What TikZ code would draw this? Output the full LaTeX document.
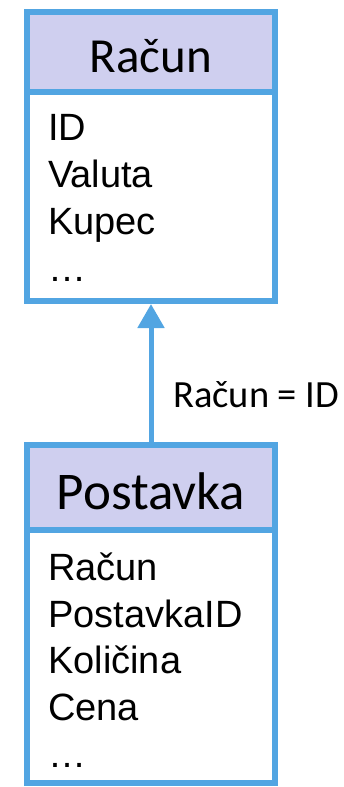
\documentclass[tikz,border=0pt]{standalone}
\usepackage{fontspec}
\setmainfont{Carlito}
\newfontfamily\attrfont{Liberation Sans}
\usetikzlibrary{arrows.meta}
\definecolor{umlblue}{RGB}{82,165,226}
\definecolor{umlhead}{RGB}{207,207,239}
\begin{document}
\begin{tikzpicture}[x=1pt,y=-1pt,
  headbox/.style={draw=umlblue, line width=6pt, fill=umlhead, minimum width=248pt, inner sep=0pt},
  bodybox/.style={draw=umlblue, line width=6pt, fill=white, minimum width=248pt, inner sep=0pt},
  attr/.style={anchor=base west, inner sep=0pt, font=\attrfont\fontsize{38}{38}\selectfont},
  title/.style={anchor=base, inner sep=0pt},
  link/.style={draw=umlblue, line width=5pt, -{Triangle[length=24pt,width=26pt]}}
]
\useasboundingbox (0,0) rectangle (343,787);
% Racun
\node[bodybox, minimum height=209pt] (body1) at (151,196.5) {};
\node[headbox, minimum height=80pt] (head1) at (151,52) {};
\node[title, font=\fontsize{49}{49}\selectfont] (t1) at (151,72) {Račun};
\node[attr] (a1) at (48,140) {ID};
\node[attr] (a2) at (48,187) {Valuta};
\node[attr] (a3) at (48,234) {Kupec};
\node[attr] (a4) at (48,281) {…};
% Postavka
\node[bodybox, minimum height=253pt] (body2) at (151,656.5) {};
\node[headbox, minimum height=85pt] (head2) at (151,487.5) {};
\node[title, font=\fontsize{53}{53}\selectfont] (t2) at (151,509) {Postavka};
\node[attr] (b1) at (48,580) {Račun};
\node[attr] (b2) at (48,627) {PostavkaID};
\node[attr] (b3) at (48,673) {Količina};
\node[attr] (b4) at (48,720) {Cena};
\node[attr] (b5) at (48,767) {…};
% connector
\draw[link] (head2.north) -- (body1.south);
\node[anchor=base west, inner sep=0pt, font=\fontsize{38.5}{38.5}\selectfont] (lbl) at (173,407) {Račun = ID};
\end{tikzpicture}
\end{document}
